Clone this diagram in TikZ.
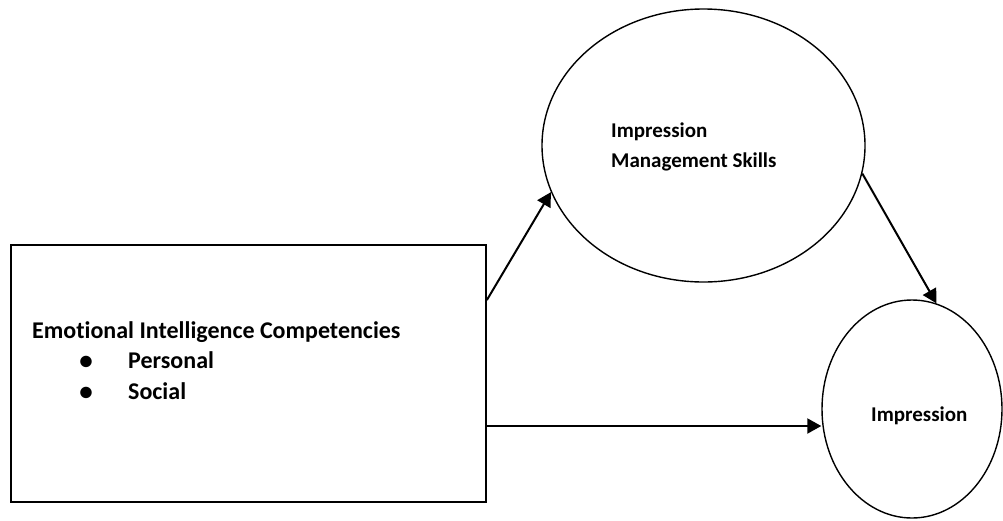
\documentclass[tikz,border=0pt]{standalone}
\usepackage{fontspec}
\setmainfont{Carlito}[Ligatures=NoCommon]
\usetikzlibrary{arrows.meta,shapes.geometric}
\begin{document}
\begin{tikzpicture}[x=1pt,y=-1pt,
  box/.style={draw, line width=1.8pt, inner sep=0pt},
  oval/.style={draw, ellipse, line width=1.4pt, inner sep=0pt},
  txt/.style={font=\bfseries\fontsize{21}{26}\selectfont, anchor=base west, inner sep=0pt},
  boxtxt/.style={txt, font=\bfseries\fontsize{24}{29}\selectfont},
  dot/.style={anchor=base, inner sep=0pt, font=\bfseries\fontsize{27}{27}\selectfont},
  link/.style={line width=2pt, -{Triangle[length=14pt,width=15pt]}}]
\useasboundingbox (0,0) rectangle (1003,520);
% shapes
\node[box, minimum width=475pt, minimum height=257pt] (eic) at (248.5,373.5) {};
\node[oval, minimum width=323pt, minimum height=273pt] (ims) at (703.5,145.5) {};
\node[oval, minimum width=180pt, minimum height=218pt] (imp) at (912,409) {};
% labels
\node[boxtxt] (t1) at (32,338) {Emotional Intelligence Competencies};
\node[dot] (b1) at (86,369) {•};
\node[boxtxt] (t2) at (128,368) {Personal};
\node[dot] (b2) at (86,400) {•};
\node[boxtxt] (t3) at (128,399) {Social};
\node[txt] (t4) at (611,137) {Impression};
\node[txt] (t5) at (611,167) {Management Skills};
\node[txt] (t6) at (871,421) {Impression};
% connectors
\coordinate (s1) at (eic.east |- 0,300);
\coordinate (s3) at (eic.east |- 0,426);
\draw[link] (s1) -- (ims.197);
\draw[link] (ims.-10) -- (imp.77);
\draw[link] (s3) -- (s3 -| imp.west);
\end{tikzpicture}
\end{document}
